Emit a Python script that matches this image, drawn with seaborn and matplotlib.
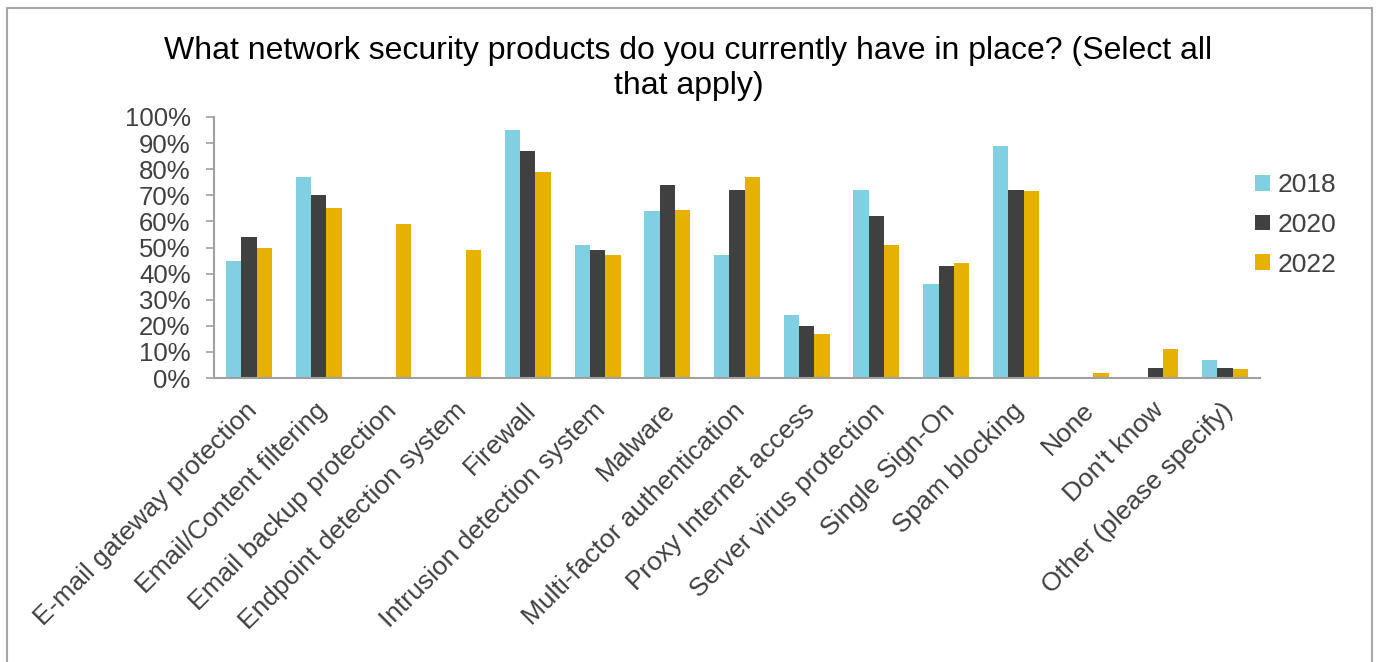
import numpy as np
import pandas as pd
import seaborn as sns
import matplotlib.pyplot as plt
import matplotlib.transforms as mtransforms
from matplotlib.patches import Rectangle
from matplotlib.ticker import PercentFormatter

# categories and values (share of respondents)
categories = ["E-mail gateway protection", "Email/Content filtering", "Email backup protection",
              "Endpoint detection system", "Firewall", "Intrusion detection system", "Malware",
              "Multi-factor authentication", "Proxy Internet access", "Server virus protection",
              "Single Sign-On", "Spam blocking", "None", "Don't know", "Other (please specify)"]
years = ["2018", "2020", "2022"]
v2018 = [0.45, 0.77, np.nan, np.nan, 0.95, 0.51, 0.64, 0.47, 0.24, 0.72, 0.36, 0.89, np.nan, np.nan, 0.07]
v2020 = [0.54, 0.70, np.nan, np.nan, 0.87, 0.49, 0.74, 0.72, 0.20, 0.62, 0.43, 0.72, np.nan, 0.04, 0.04]
v2022 = [0.50, 0.65, 0.59, 0.49, 0.79, 0.47, 0.645, 0.77, 0.17, 0.51, 0.44, 0.715, 0.02, 0.11, 0.035]
colors = ["#81CFE3", "#404040", "#E6B100"]

df = pd.DataFrame({"Product": categories * 3,
                   "Year": [y for y in years for _ in categories],
                   "Share": v2018 + v2020 + v2022})

sns.set_style("white")
plt.rcParams["font.family"] = ["Liberation Sans", "DejaVu Sans"]

fig = plt.figure(figsize=(13.77, 6.62), dpi=100)
ax = fig.add_axes([214 / 1377, 1 - 378 / 662, (1260 - 214) / 1377, (378 - 117) / 662])

sns.barplot(data=df, x="Product", y="Share", hue="Year", order=categories, hue_order=years,
            palette=colors, width=0.66, saturation=1, linewidth=0, edgecolor="none",
            ax=ax, legend=True)

ax.set_ylim(0, 1)
ax.set_xlim(-0.5, len(categories) - 0.5)
ax.set_yticks(np.arange(0, 1.01, 0.1))
ax.yaxis.set_major_formatter(PercentFormatter(1, decimals=0))
ax.set_xlabel("")
ax.set_ylabel("")
for s in ["top", "right"]:
    ax.spines[s].set_visible(False)
for s in ["left", "bottom"]:
    ax.spines[s].set_color("#A0A0A0")
    ax.spines[s].set_linewidth(1.5)
ax.tick_params(axis="y", left=True, length=5.8, width=1.2, color="#A0A0A0",
               labelsize=18.5, labelcolor="#404040", pad=11)
ax.tick_params(axis="x", bottom=False, labelsize=19, labelcolor="#404040", pad=11)
shift = mtransforms.ScaledTranslation(-4 / 100, 0, fig.dpi_scale_trans)
for lab in ax.get_xticklabels():
    lab.set_rotation(45)
    lab.set_ha("right")
    lab.set_rotation_mode("anchor")
    lab.set_transform(lab.get_transform() + shift)

leg = ax.legend(loc="upper left", bbox_to_anchor=(1255 / 1377, 1 - 173 / 662),
                bbox_transform=fig.transFigure, frameon=False, fontsize=19,
                handlelength=0.55, handleheight=0.55, handletextpad=0.3,
                labelspacing=0.6, borderpad=0, borderaxespad=0)
for t in leg.get_texts():
    t.set_color("#404040")

fig.text(0.5, 1 - 36 / 662,
         "What network security products do you currently have in place? (Select all\nthat apply)",
         ha="center", va="top", fontsize=23, color="black", linespacing=1.2)

# outer chart border
fig.patches.append(Rectangle((7 / 1377, -0.1), (1372 - 7) / 1377, 1.1 - 8 / 662,
                             transform=fig.transFigure, fill=False,
                             edgecolor="#A6A6A6", linewidth=1.5))

plt.savefig("out.png", dpi=100)
